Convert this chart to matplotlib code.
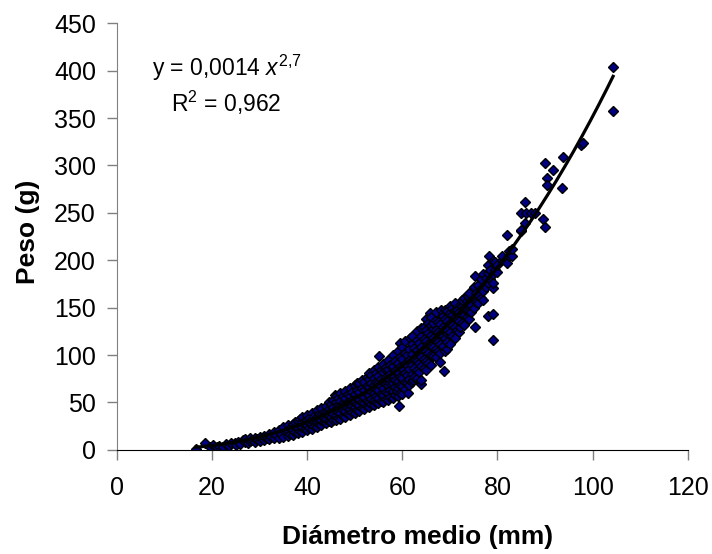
import numpy as np
import matplotlib.pyplot as plt

plt.rcParams['font.family'] = ['Liberation Sans', 'DejaVu Sans']
plt.rcParams['mathtext.fontset'] = 'custom'
plt.rcParams['mathtext.rm'] = 'Liberation Sans'
plt.rcParams['mathtext.it'] = 'Liberation Sans:italic'

# frutos pequeños (17-35 mm)
diam_peq = [16.6, 18.5, 19.5, 20.2, 21, 21.5, 22.3, 23, 23.5, 24, 24.8, 25, 25.5, 26, 26.5,
            27, 27, 27.5, 28, 28, 28.5, 29, 29, 29.5, 30, 30, 30.5, 31, 31, 31.5, 32, 32,
            32.5, 33, 33, 33.5, 34, 34, 34.5, 35, 35, 35.5]
peso_peq = [1, 7, 3, 5, 3, 4, 3.5, 6, 4, 7, 7.4, 5, 8, 6, 10,
            8, 11, 7, 9, 12, 10, 8, 13, 11, 9, 14, 12, 10, 15, 13, 11, 17,
            14, 12, 19, 16, 13, 21, 17, 14, 24, 19]

# frutos medianos (36-55 mm)
diam_med = [36, 36, 36, 36.5, 36.5, 37, 37, 37, 37.5, 37.5, 37.5, 38, 38, 38, 38.5, 38.5, 38.5,
            39, 39, 39, 39, 39.5, 39.5, 39.5, 40, 40, 40, 40, 40.5, 40.5, 40.5,
            41, 41, 41, 41, 41.5, 41.5, 41.5, 42, 42, 42, 42, 42.5, 42.5, 42.5,
            43, 43, 43, 43, 43.5, 43.5, 43.5, 44, 44, 44, 44, 44.5, 44.5, 44.5, 44.5,
            45, 45, 45, 45, 45.8, 45.5, 45.5, 45.5, 45.5, 46, 46, 46, 46, 46, 46.5, 46.5, 46.5, 46.5,
            47, 47, 47, 47, 47, 47.5, 47.5, 47.5, 47.5, 48, 48, 48, 48, 48, 48.5, 48.5, 48.5, 48.5,
            49, 49, 49, 49, 49, 49.5, 49.5, 49.5, 49.5, 50, 50, 50, 50, 50, 50.5, 50.5, 50.5, 50.5, 50.5,
            51, 51, 51, 51, 51, 51.5, 51.5, 51.5, 51.5, 51.5, 52, 52, 52, 52, 52,
            52.5, 52.5, 52.5, 52.5, 52.5, 53, 53, 53, 53, 53, 53, 53.5, 53.5, 53.5, 53.5, 53.5,
            54, 54, 54, 54, 54, 54, 54.5, 54.5, 54.5, 54.5, 54.5, 55, 55, 55, 55, 55, 55, 55.1]
peso_med = [15, 20, 26, 17, 23, 16, 21, 27, 19, 25, 29, 18, 23, 30, 20, 26, 33,
            19, 24, 29, 35, 22, 27, 32, 21, 26, 31, 37, 23, 29, 34,
            22, 27, 33, 39, 25, 30, 36, 24, 29, 35, 42, 27, 32, 38,
            26, 31, 37, 44, 29, 34, 40, 28, 33, 39, 46, 30, 36, 43, 50,
            29, 35, 41, 48, 58, 32, 38, 45, 53, 31, 37, 43, 50, 57, 34, 40, 47, 55,
            33, 39, 46, 52, 60, 36, 42, 49, 57, 35, 41, 48, 55, 62, 38, 44, 51, 59,
            37, 43, 50, 57, 65, 40, 46, 53, 61, 39, 45, 52, 59, 68, 42, 48, 55, 63, 71,
            41, 47, 54, 61, 70, 44, 50, 57, 65, 74, 43, 49, 56, 63, 72,
            46, 52, 59, 67, 77, 45, 51, 58, 66, 75, 81, 48, 54, 62, 70, 79,
            47, 53, 60, 68, 76, 84, 50, 57, 64, 72, 81, 49, 55, 63, 70, 78, 87, 99]

# frutos grandes (55-76 mm)
diam_gra = [55.5, 55.5, 55.5, 55.5, 55.5, 56, 56, 56, 56, 56, 56.3, 56, 56.5, 56.5, 56.5, 56.5, 56.5,
            57, 57, 57, 57, 57, 57, 57.5, 57.5, 57.5, 57.5, 57.5, 58, 58, 58, 58, 58, 58,
            58.5, 58.5, 58.5, 58.5, 58.5, 58.8, 59, 59, 59, 59, 59, 59, 59.3,
            59.5, 59.5, 59.5, 59.5, 59.5, 59.5, 60, 60, 60, 60, 60, 60, 60.5, 60.5, 60.5, 60.5, 60.5, 60.5,
            61.1, 61, 61, 61, 61, 61.6, 61.5, 61.5, 61.5, 61.5, 61.5, 62, 62, 62, 62, 62, 62, 62.3,
            62.5, 62.5, 62.5, 62.5, 63, 63, 63, 63, 63, 63, 63.5, 63.5, 63.5, 63.5,
            64, 64, 64, 64, 64, 64, 64, 64.5, 64.5, 64.5, 64.5, 64.5, 65, 65, 65, 65, 65, 65,
            65.5, 65.5, 65.5, 65.5, 65.5, 65.8, 66, 66, 66, 66, 66, 66, 66.5, 66.5, 66.5, 66.5, 66.5,
            67, 67, 67, 67, 67, 67, 67.5, 67.5, 67.5, 67.5, 68, 68, 68, 68, 68, 68.2,
            68.5, 68.5, 68.5, 68.5, 68.8, 69, 69, 69, 69, 69, 69.3, 69.3, 69.5, 69.5, 69.5, 69.5,
            70, 70, 70, 70, 70, 70.5, 70.5, 70.5, 70.5, 71, 71, 71, 71, 71, 71.5, 71.5, 71.5,
            72, 72.1, 72, 72, 72.1, 72.5, 72.5, 72.5, 72.5, 73, 73, 73, 73, 73.5, 73.5, 73.5, 73.8,
            74, 74, 74, 74, 74.5, 74.5, 75.2, 75, 75, 75, 75.2, 75.5, 75.5]
peso_gra = [52, 59, 67, 75, 84, 51, 58, 65, 73, 82, 85, 91, 54, 61, 69, 77, 87,
            53, 60, 68, 76, 85, 95, 56, 63, 71, 80, 90, 55, 62, 70, 79, 88, 100,
            58, 66, 74, 83, 94, 62, 57, 65, 73, 82, 92, 104, 46,
            60, 68, 77, 87, 98, 113, 59, 67, 76, 86, 96, 108, 64, 72, 81, 91, 102, 115,
            60, 70, 79, 89, 100, 118, 68, 75, 85, 95, 106, 72, 80, 90, 101, 112, 120, 74,
            77, 86, 96, 107, 76, 84, 94, 105, 116, 125, 82, 92, 102, 113,
            69, 74, 88, 98, 109, 120, 129, 86, 96, 106, 117, 130, 84, 94, 104, 115, 126, 138,
            92, 102, 112, 123, 134, 144, 90, 100, 110, 121, 132, 140, 99, 108, 118, 128, 134,
            98, 106, 116, 126, 137, 145, 104, 114, 124, 135, 93, 102, 112, 122, 133, 148,
            110, 120, 130, 141, 83, 104, 118, 128, 138, 148, 106, 123, 114, 126, 136, 146,
            112, 124, 134, 144, 152, 120, 132, 142, 150, 118, 130, 140, 148, 155, 126, 138, 147,
            124, 130, 136, 145, 153, 134, 144, 152, 158, 132, 142, 150, 160, 140, 148, 157, 162,
            138, 146, 155, 165, 145, 153, 130, 150, 160, 172, 183, 156, 165]

# frutos muy grandes (76-105 mm)
diam_mgr = [76, 76, 76, 76.5, 76.5, 76.5, 77, 77, 77, 77.5, 77.5, 78, 78, 78, 78, 78.3,
            78.5, 78.5, 79.1, 79.1, 79.1, 79, 79, 79, 79.5, 79.5, 80, 80, 81, 81,
            82, 82.5, 82, 82.5, 83, 83, 85, 85, 85.7, 85, 85.8, 86, 87, 87.9,
            89.6, 90, 90.4, 90.4, 90, 91.7, 93.5, 93.8, 97.5, 98, 104.3, 104.3]
peso_mgr = [155, 163, 174, 160, 170, 180, 158, 168, 185, 172, 181, 141, 176, 187, 195, 204,
            180, 190, 116, 143, 171, 176, 186, 199, 190, 198, 188, 195, 200, 205,
            197, 210, 227, 204, 204, 212, 231, 250, 239.5, 232, 261, 250, 250, 250,
            244, 235.6, 286.6, 279.5, 303, 295, 276, 309, 322, 324, 357.5, 404]

diametro = np.array(diam_peq + diam_med + diam_gra + diam_mgr)
peso = np.array(peso_peq + peso_med + peso_gra + peso_mgr)

# ajuste potencial
coef_a, coef_b = 0.0014, 2.7
r2 = 0.962

fig = plt.figure(figsize=(7.12, 5.54), dpi=100)
ax = fig.add_axes([0.164, 0.188, 0.802, 0.770])

ax.plot(diametro, peso, 'D', markersize=5, markerfacecolor='#000080',
        markeredgecolor='black', markeredgewidth=1.0, linestyle='none', zorder=2)

xs = np.linspace(diametro.min(), diametro.max(), 200)
ax.plot(xs, coef_a * xs ** coef_b, color='black', linewidth=2.3, zorder=3)

ax.set_xlim(0, 120)
ax.set_ylim(0, 450)
ax.set_xticks(np.arange(0, 121, 20))
ax.set_yticks(np.arange(0, 451, 50))

for s in ['top', 'right']:
    ax.spines[s].set_visible(False)
ax.spines['left'].set_color('#808080')
ax.spines['bottom'].set_color('black')
ax.tick_params(axis='both', direction='out', length=7, width=1, color='#808080',
               labelsize=18)
ax.tick_params(axis='y', pad=8)
ax.tick_params(axis='x', pad=12)

ax.set_xlabel('Diámetro medio (mm)', fontsize=19, fontweight='bold', va='center')
ax.set_ylabel('Peso (g)', fontsize=19, fontweight='bold', va='center')
ax.xaxis.set_label_coords(0.526, -0.204)
ax.yaxis.set_label_coords(-0.156, 0.51)

eq = 'y = 0,0014 $x^{2{,}7}$'
ax.text(23.1, 403, eq, ha='center', va='center', fontsize=16.5)
ax.text(23.1, 366, 'R$^{2}$ = ' + f'{r2:.3f}'.replace('.', ','), ha='center', va='center',
        fontsize=16.5)

fig.savefig('out.png', dpi=100)
